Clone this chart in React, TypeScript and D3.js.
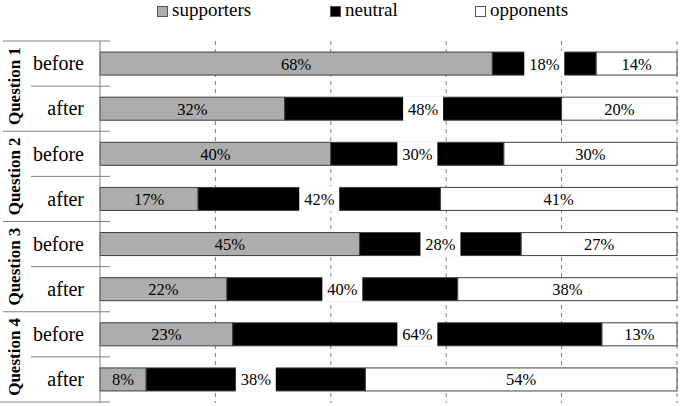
import React, { useRef, useEffect } from "react";
import * as d3 from "d3";

const questions = ["Question 1", "Question 2", "Question 3", "Question 4"];
const phases = ["before", "after"];
const seriesNames = ["supporters", "neutral", "opponents"];
const supporters = [68, 32, 40, 17, 45, 22, 23, 8];
const neutral = [18, 48, 30, 42, 28, 40, 64, 38];
const opponents = [14, 20, 30, 41, 27, 38, 13, 54];
const gridTicks = [20, 40, 60, 80, 100];

const colors = ["#adadad", "#000000", "#ffffff"];
const font = "'Liberation Serif', 'Times New Roman', serif";

const App = () => {
  const svgRef = useRef<SVGSVGElement | null>(null);

  useEffect(() => {
    if (!svgRef.current) return;
    const width = 680;
    const height = 406;
    const left = 100;
    const right = 677;
    const top = 41;
    const bottom = 402;

    const svg = d3
      .select(svgRef.current)
      .attr("width", width)
      .attr("height", height)
      .style("font-family", font);

    const rows = d3.range(questions.length * phases.length);
    const values = rows.map((i) => [supporters[i], neutral[i], opponents[i]]);

    const x = d3.scaleLinear().domain([0, 100]).range([left, right]);
    const y = d3
      .scaleBand<number>()
      .domain(rows)
      .range([top, bottom])
      .paddingInner(0.49)
      .paddingOuter(0.245);
    const step = y.step();

    // gridlines
    svg
      .append("g")
      .selectAll("line")
      .data(gridTicks)
      .enter()
      .append("line")
      .attr("x1", (d) => x(d))
      .attr("x2", (d) => x(d))
      .attr("y1", top)
      .attr("y2", bottom + 1)
      .attr("stroke", "#808080")
      .attr("stroke-width", 1)
      .attr("stroke-dasharray", "4,4");

    // bars
    const barG = svg.append("g");
    rows.forEach((r) => {
      let acc = 0;
      values[r].forEach((v, k) => {
        barG
          .append("rect")
          .attr("x", x(acc))
          .attr("y", y(r)!)
          .attr("width", x(acc + v) - x(acc))
          .attr("height", y.bandwidth())
          .attr("fill", colors[k])
          .attr("stroke", "#404040")
          .attr("stroke-width", 1);
        acc += v;
      });
    });

    // data labels
    const labelG = svg.append("g");
    rows.forEach((r) => {
      let acc = 0;
      values[r].forEach((v, k) => {
        const cx = x(acc + v / 2);
        const cy = y(r)! + y.bandwidth() / 2;
        if (k === 1) {
          labelG
            .append("rect")
            .attr("x", cx - 20)
            .attr("y", y(r)! - 1)
            .attr("width", 40)
            .attr("height", y.bandwidth() + 2)
            .attr("fill", "#ffffff");
        }
        labelG
          .append("text")
          .attr("x", cx)
          .attr("y", cy)
          .attr("dy", "0.36em")
          .attr("text-anchor", "middle")
          .attr("font-size", "16.5px")
          .attr("fill", "#000")
          .text(`${v}%`);
        acc += v;
      });
    });

    // category axis
    const axisG = svg.append("g");
    axisG
      .append("line")
      .attr("x1", left)
      .attr("x2", left)
      .attr("y1", top)
      .attr("y2", bottom + 1)
      .attr("stroke", "#808080");

    questions.forEach((q, g) => {
      const y0 = top + g * 2 * step;
      axisG
        .append("line")
        .attr("x1", 3)
        .attr("x2", 110)
        .attr("y1", y0)
        .attr("y2", y0)
        .attr("stroke", "#808080");
      axisG
        .append("line")
        .attr("x1", 31)
        .attr("x2", 110)
        .attr("y1", y0 + step)
        .attr("y2", y0 + step)
        .attr("stroke", "#808080");
      axisG
        .append("text")
        .attr("transform", `translate(14,${y0 + step}) rotate(-90)`)
        .attr("dy", "0.36em")
        .attr("text-anchor", "middle")
        .attr("font-size", "17px")
        .attr("font-weight", "bold")
        .text(q);
    });
    axisG
      .append("line")
      .attr("x1", 0)
      .attr("x2", 110)
      .attr("y1", top + questions.length * 2 * step)
      .attr("y2", top + questions.length * 2 * step)
      .attr("stroke", "#808080");

    rows.forEach((r) => {
      axisG
        .append("text")
        .attr("x", 84)
        .attr("y", y(r)! + y.bandwidth() / 2)
        .attr("dy", "0.34em")
        .attr("text-anchor", "end")
        .attr("font-size", "20px")
        .text(phases[r % 2]);
    });

    // legend
    const legendX = [157, 330, 475];
    const legend = svg.append("g");
    seriesNames.forEach((name, k) => {
      legend
        .append("rect")
        .attr("x", legendX[k] + 0.5)
        .attr("y", 6.5)
        .attr("width", 10)
        .attr("height", 10)
        .attr("fill", colors[k])
        .attr("stroke", "#555");
      legend
        .append("text")
        .attr("x", legendX[k] + 15)
        .attr("y", 16)
        .attr("font-size", "19px")
        .text(name);
    });

    return () => {
      d3.select(svgRef.current).selectAll("*").remove();
    };
  }, []);

  return (
    <div style={{ position: "absolute", left: 0, top: 0, background: "#fff" }}>
      <svg ref={svgRef} style={{ display: "block" }}></svg>
    </div>
  );
};

export default App;
